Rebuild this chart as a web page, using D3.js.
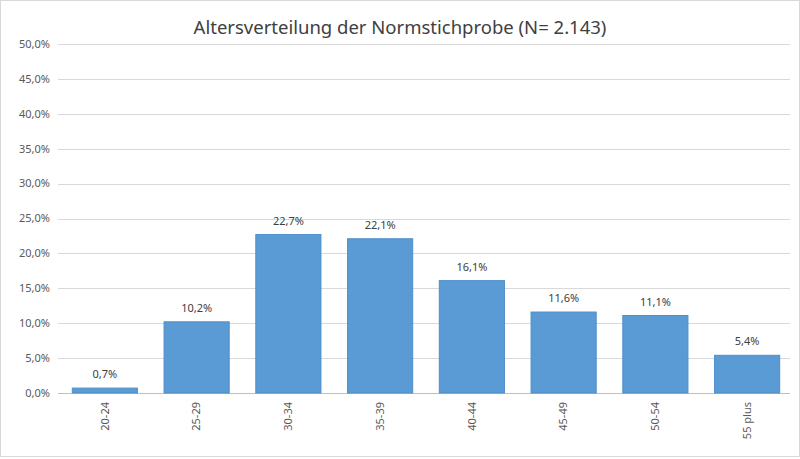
<!DOCTYPE html>
<html lang="de">
<head>
  <meta charset="UTF-8">
  <title>Altersverteilung der Normstichprobe</title>
  <script src="https://d3js.org/d3.v7.min.js"></script>
  <style>
    body { margin: 0; background: #fff; }
    text { font-family: "Noto Sans", sans-serif; }
  </style>
</head>
<body>
  <div id="chart"></div>
  <script>
  // data
  var categories = ["20-24", "25-29", "30-34", "35-39", "40-44", "45-49", "50-54", "55 plus"];
  var values = [0.7, 10.2, 22.7, 22.1, 16.1, 11.6, 11.1, 5.4];
  var yTicks = [0, 5, 10, 15, 20, 25, 30, 35, 40, 45, 50];
  var title = "Altersverteilung der Normstichprobe (N= 2.143)";

  var w = 800, h = 459;
  var margin = {top: 44, right: 10, bottom: 66, left: 58};

  var svg = d3.select("#chart").append("svg")
    .attr("width", w)
    .attr("height", h);

  svg.append("rect")
    .attr("x", 0.5).attr("y", 0.5)
    .attr("width", w - 1).attr("height", h - 3)
    .attr("fill", "#fff")
    .attr("stroke", "#d9d9d9");

  var fmt = function(v) { return d3.format(".1f")(v).replace(".", ",") + "%"; };

  var x = d3.scaleBand()
    .domain(categories)
    .range([margin.left + 1, w - 7])
    .paddingInner(0.29)
    .paddingOuter(0.145);

  var y = d3.scaleLinear()
    .domain([0, 50])
    .range([h - margin.bottom, margin.top]);

  // gridlines
  svg.append("g")
    .selectAll("line")
    .data(yTicks)
    .enter().append("line")
    .attr("x1", margin.left)
    .attr("x2", w - margin.right)
    .attr("y1", d => Math.round(y(d)) + 0.5)
    .attr("y2", d => Math.round(y(d)) + 0.5)
    .attr("stroke", d => d === 0 ? "#bfbfbf" : "#d9d9d9")
    .attr("stroke-width", 1);

  // y tick labels
  svg.append("g")
    .selectAll("text")
    .data(yTicks)
    .enter().append("text")
    .attr("x", margin.left - 8)
    .attr("y", d => y(d))
    .attr("dy", "0.35em")
    .attr("text-anchor", "end")
    .attr("font-size", 11)
    .attr("fill", "#595959")
    .text(d => fmt(d));

  // bars
  svg.append("g")
    .selectAll("rect")
    .data(values)
    .enter().append("rect")
    .attr("x", (d, i) => x(categories[i]))
    .attr("y", d => y(d))
    .attr("width", x.bandwidth())
    .attr("height", d => y(0) - y(d))
    .attr("fill", "#5b9bd5")
    .attr("stroke", "#4f8fca")
    .attr("stroke-width", 1);

  // value labels
  svg.append("g")
    .selectAll("text")
    .data(values)
    .enter().append("text")
    .attr("x", (d, i) => x(categories[i]) + x.bandwidth() / 2)
    .attr("y", d => y(d) - 10)
    .attr("text-anchor", "middle")
    .attr("font-size", 11)
    .attr("fill", "#404040")
    .text(d => fmt(d));

  // x labels, rotated
  svg.append("g")
    .selectAll("text")
    .data(categories)
    .enter().append("text")
    .attr("transform", d => "translate(" + (x(d) + x.bandwidth() / 2) + "," + (y(0) + 9) + ") rotate(-90)")
    .attr("dy", "0.35em")
    .attr("text-anchor", "end")
    .attr("font-size", 11)
    .attr("fill", "#595959")
    .text(d => d);

  svg.append("text")
    .attr("x", w / 2)
    .attr("y", 34)
    .attr("text-anchor", "middle")
    .attr("font-size", 18.5)
    .attr("fill", "#404040")
    .text(title);
  </script>
</body>
</html>
